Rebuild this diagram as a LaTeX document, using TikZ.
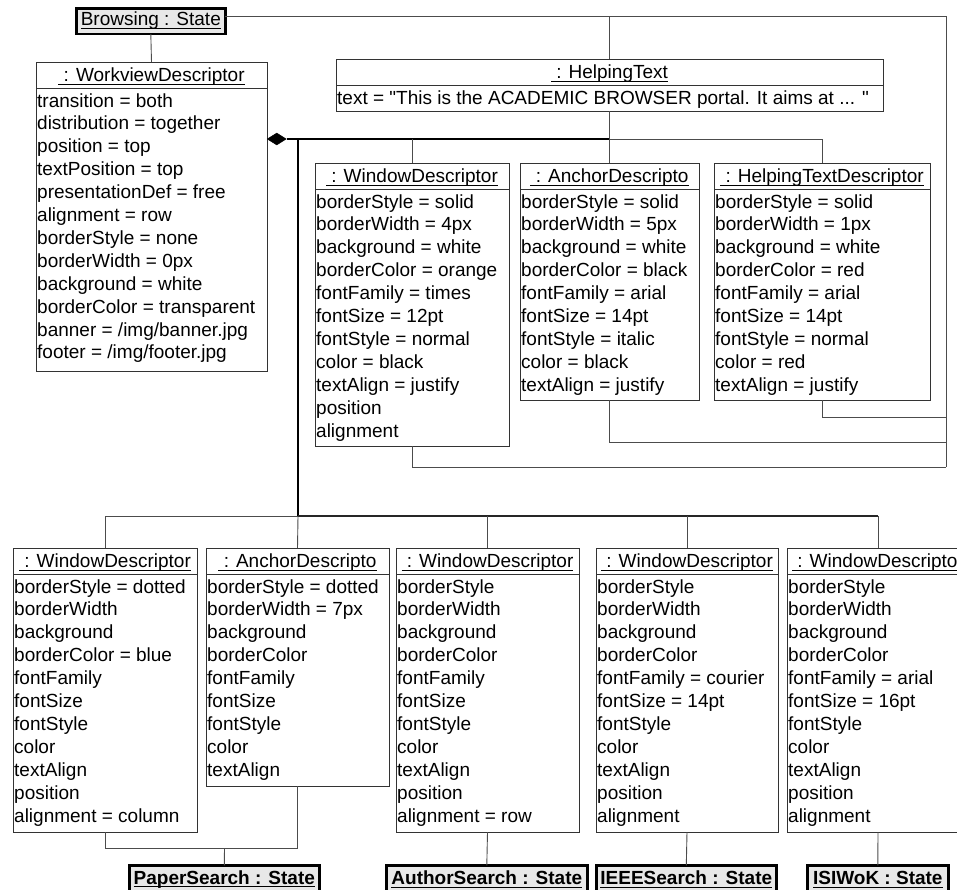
\documentclass[tikz,border=0pt]{standalone}
\usepackage{fontspec}
\setmainfont{Liberation Sans}[Ligatures=TeXOff]
\usetikzlibrary{shapes.geometric}

\definecolor{boxline}{gray}{0.2}
\definecolor{connline}{gray}{0.3}
\definecolor{statefill}{gray}{0.91}

% underline placed just below the baseline
\newsavebox\undlbox
\newcommand\undl[1]{\sbox\undlbox{#1}\rlap{\rule[-3pt]{\wd\undlbox}{0.9pt}}\usebox\undlbox}
\newcommand\umlfont{\fontsize{19}{22.9}\selectfont}

% object box: name, left, top, width, height, title, attribute lines
\newcommand\umlobj[7]{%
  \node[objbox, anchor=north west, minimum width=#4pt, minimum height=#5pt] (#1) at (#2,#3) {};
  \draw[boxrule] ([yshift=-26pt]#1.north west) -- ([yshift=-26pt]#1.north east);
  \node[objtitle] (#1-t) at ([yshift=-19.5pt]#1.north) {\undl{\ #6}};
  \foreach \attrline [count=\attrno from 0] in {#7}
    \node[attr] (#1-\attrno) at ([xshift=1pt, yshift={-(45pt+\attrno*22.9pt)}]#1.north west) {\attrline};
}

\begin{document}
\begin{tikzpicture}[x=1pt, y=-1pt,
  objbox/.style={draw=boxline, line width=0.9pt, fill=white, inner sep=0pt, outer sep=0pt},
  boxrule/.style={draw=boxline, line width=0.9pt},
  objtitle/.style={font=\umlfont, inner sep=0pt, anchor=base},
  attr/.style={font=\umlfont, inner sep=0pt, anchor=base west},
  statebox/.style={draw=black, line width=2.6pt, fill=statefill, inner sep=0pt, outer sep=0pt,
    anchor=north west, font=\umlfont},
  link/.style={draw=connline, line width=0.9pt},
  comp/.style={draw=black, line width=2.2pt},
  compbus/.style={draw=black!85, line width=1.4pt},
  compdiamond/.style={shape=diamond, fill=black, draw=black, line width=0.5pt, inner sep=0pt,
    minimum width=19pt, minimum height=12pt}]

\useasboundingbox (0,0) rectangle (957,889);
\clip (0,0) rectangle (957,889);

% states
\node[statebox, minimum width=149pt, minimum height=25.5pt] (browsing) at (76.3,8.3) {\undl{Browsing : State}};
\node[statebox, minimum width=190pt, minimum height=28pt] (paper) at (129.3,865.3) {\bfseries\undl{PaperSearch : State}};
\node[statebox, minimum width=201pt, minimum height=28pt] (author) at (386.3,865.3) {\bfseries\undl{AuthorSearch : State}};
\node[statebox, minimum width=180pt, minimum height=28pt] (ieee) at (596.3,865.3) {\bfseries\undl{IEEESearch : State}};
\node[statebox, minimum width=141pt, minimum height=28pt] (isi) at (807.3,865.3) {\bfseries\undl{ISIWoK : State}};

% workview descriptor
\umlobj{wvd}{36}{62}{231}{309}{: WorkviewDescriptor}{transition = both, distribution = together,
  position = top, textPosition = top, presentationDef = free, alignment = row, borderStyle = none,
  borderWidth = 0px, background = white, borderColor = transparent, banner = /img/banner.jpg,
  footer = /img/footer.jpg}

% helping text
\node[objbox, anchor=north west, minimum width=547pt, minimum height=52pt] (help) at (336,59) {};
\draw[boxrule] ([yshift=-26pt]help.north west) -- ([yshift=-26pt]help.north east);
\node[objtitle] (help-t) at ([yshift=-19.5pt]help.north) {\undl{\ : HelpingText}};
\node[attr] (help-0) at ([xshift=1pt, yshift=-45pt]help.north west)
  {text = "This is the ACADEMIC BROWSER portal. It aims at ... "};

% descriptors of the browsing state
\umlobj{wd0}{315}{163}{194}{283}{: WindowDescriptor}{borderStyle = solid, borderWidth = 4px,
  background = white, borderColor = orange, fontFamily = times, fontSize = 12pt,
  fontStyle = normal, color = black, textAlign = justify, position, alignment}
\umlobj{ad0}{520}{163}{179}{237}{: AnchorDescripto}{borderStyle = solid, borderWidth = 5px,
  background = white, borderColor = black, fontFamily = arial, fontSize = 14pt,
  fontStyle = italic, color = black, textAlign = justify}
\umlobj{htd}{714}{163}{216}{237}{: HelpingTextDescriptor}{borderStyle = solid, borderWidth = 1px,
  background = white, borderColor = red, fontFamily = arial, fontSize = 14pt,
  fontStyle = normal, color = red, textAlign = justify}

% descriptors of the search states
\umlobj{wd1}{13}{548}{184}{284}{: WindowDescriptor}{borderStyle = dotted, borderWidth, background,
  borderColor = blue, fontFamily, fontSize, fontStyle, color, textAlign, position, alignment = column}
\umlobj{ad1}{206}{548}{183}{238}{: AnchorDescripto}{borderStyle = dotted, borderWidth = 7px,
  background, borderColor, fontFamily, fontSize, fontStyle, color, textAlign}
\umlobj{wd2}{396}{548}{183}{284}{: WindowDescriptor}{borderStyle, borderWidth, background,
  borderColor, fontFamily, fontSize, fontStyle, color, textAlign, position, alignment = row}
\umlobj{wd3}{596}{548}{182}{284}{: WindowDescriptor}{borderStyle, borderWidth, background,
  borderColor, fontFamily = courier, fontSize = 14pt, fontStyle, color, textAlign, position, alignment}
\umlobj{wd4}{787}{548}{182}{284}{: WindowDescriptor}{borderStyle, borderWidth, background,
  borderColor, fontFamily = arial, fontSize = 16pt, fontStyle, color, textAlign, position, alignment}

% junction points
\coordinate (rtop) at (946,16);
\coordinate (rbot) at (946,467);
\coordinate (jleft) at (298,139);
\coordinate (jtop) at (609.5,139);
\coordinate (bus) at (298,516);
\coordinate (pj) at (224.5,848);

% composition diamond and its thick lines
\node[compdiamond, anchor=west] (dia) at (wvd.east |- jleft) {};
\draw[comp] (dia.east) -- (jtop);
\draw[comp] (jleft) -- (bus);
\draw[compbus] (bus) -- (bus -| wd4.north);

% browsing state links
\draw[link] (browsing.south) -- (wvd.north);
\draw[link] (browsing.east |- rtop) -- (rtop) -- (rbot);
\draw[link] (help.north |- rtop) -- (help.north);
\draw[link] (help.south) -- (jtop) -- (jtop -| htd.north) -- (htd.north);
\draw[link] (wd0.north |- jtop) -- (wd0.north);
\draw[link] (ad0.north |- jtop) -- (ad0.north);
\draw[link] (htd.south) -- ([yshift=-17pt]htd.south) -- ([yshift=-17pt]htd.south -| rtop);
\draw[link] (ad0.south) -- ([yshift=-42pt]ad0.south) -- ([yshift=-42pt]ad0.south -| rtop);
\draw[link] (wd0.south) |- (rbot);

% search descriptor links
\draw[link] (wd1.north) |- (bus);
\draw[link] (bus) -- (ad1.north);
\draw[link] (wd2.north |- bus) -- (wd2.north);
\draw[link] (wd3.north |- bus) -- (wd3.north);
\draw[link] (wd4.north |- bus) -- (wd4.north);

% links to the search states
\draw[link] (wd1.south) |- (pj) -| (ad1.south);
\draw[link] (pj) -- (paper.north);
\draw[link] (wd2.south) -- (author.north);
\draw[link] (wd3.south) -- (ieee.north);
\draw[link] (wd4.south) -- (isi.north);

\end{tikzpicture}
\end{document}
